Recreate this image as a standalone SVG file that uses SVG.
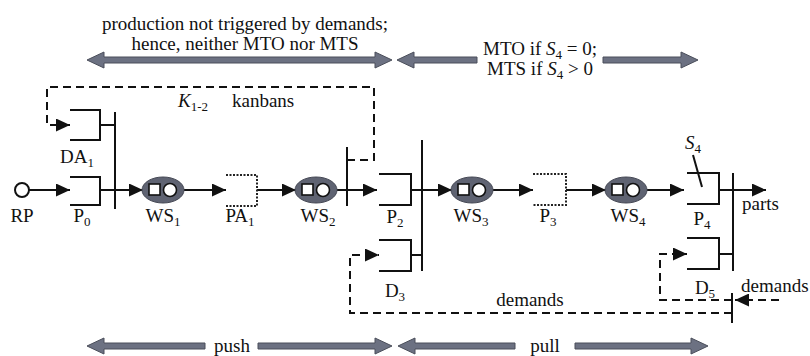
<svg xmlns="http://www.w3.org/2000/svg" width="810" height="356" viewBox="0 0 810 356">
<style>
text{font-family:"Liberation Serif","Times New Roman",serif;font-size:19px;fill:#111}
.m{text-anchor:middle}
.ln{fill:none;stroke:#111;stroke-width:2}
.ds{fill:none;stroke:#111;stroke-width:2;stroke-dasharray:8 5}
.dt{fill:none;stroke:#222;stroke-width:2;stroke-dasharray:2 1.5}
.band{fill:#6c7182;stroke:#4a4e5a;stroke-width:1}
.wsE{fill:#5f6372;stroke:#454854;stroke-width:1}
.wsI{fill:#fff;stroke:#111;stroke-width:1.6}
</style>
<defs>
<marker id="ah" markerUnits="userSpaceOnUse" markerWidth="15" markerHeight="13" refX="14" refY="6.5" orient="auto">
<path d="M0,0 L14,6.5 L0,13 z" fill="#111"/>
</marker>
<g id="ws">
<ellipse cx="0" cy="0" rx="21" ry="13" class="wsE"/>
<rect x="-14" y="-6" width="11" height="11" class="wsI"/>
<circle cx="7" cy="0" r="6.5" class="wsI"/>
</g>
</defs>

<!-- scope bands -->
<g id="bands">
<polygon class="band" points="87,60 104,52 104,57 375,57 375,52 392,60 375,68 375,63 104,63 104,68"/>
<polygon class="band" points="397,60 414,52 414,57 477,57 477,63 414,63 414,68"/>
<polygon class="band" points="603,57 681,57 681,52 698,60 681,68 681,63 603,63"/>
<polygon class="band" points="87,346 104,338 104,343 205,343 205,349 104,349 104,354"/>
<polygon class="band" points="258,343 375,343 375,338 392,346 375,354 375,349 258,349"/>
<polygon class="band" points="398,346 415,338 415,343 515,343 515,349 415,349 415,354"/>
<polygon class="band" points="575,343 691,343 691,338 708,346 691,354 691,349 575,349"/>
</g>
<g id="band-labels">
<text class="m" x="245" y="30">production not triggered by demands;</text>
<text class="m" x="245" y="50">hence, neither MTO nor MTS</text>
<text class="m" x="540" y="55">MTO if <tspan font-style="italic">S</tspan><tspan font-size="13" dy="4">4</tspan><tspan dy="-4"> = 0;</tspan></text>
<text class="m" x="540" y="75">MTS if <tspan font-style="italic">S</tspan><tspan font-size="13" dy="4">4</tspan><tspan dy="-4"> &gt; 0</tspan></text>
<text class="m" x="232" y="352">push</text>
<text class="m" x="545" y="352">pull</text>
</g>

<!-- connectors -->
<g id="connectors">
<path class="ln" d="M29,190 H70" marker-end="url(#ah)"/>
<path class="ln" d="M100,190 H143" marker-end="url(#ah)"/>
<path class="ln" d="M100,125 H115"/>
<path class="ln" d="M115,112 V209"/>
<path class="ln" d="M184,190 H226" marker-end="url(#ah)"/>
<path class="ln" d="M257,190 H296" marker-end="url(#ah)"/>
<path class="ln" d="M337,190 H377" marker-end="url(#ah)"/>
<path class="ln" d="M347,147 V206"/>
<path class="ds" d="M347,160 H374 V87 H47 V125 H70" marker-end="url(#ah)"/>
<path class="ln" d="M411,190 H452" marker-end="url(#ah)"/>
<path class="ln" d="M422,140 V271"/>
<path class="ln" d="M411,255 H422"/>
<path class="ln" d="M493,190 H533" marker-end="url(#ah)"/>
<path class="ln" d="M566,190 H606" marker-end="url(#ah)"/>
<path class="ln" d="M647,190 H684" marker-end="url(#ah)"/>
<path class="ln" d="M719,190 H766" marker-end="url(#ah)"/>
<path class="ln" d="M733,173 V271"/>
<path class="ln" d="M719,254 H733"/>
<path class="ds" d="M732,313 H350 V255 H379" marker-end="url(#ah)"/>
<path class="ds" d="M732,300 H660 V254 H687" marker-end="url(#ah)"/>
<path class="ds" d="M779,300 H735" marker-end="url(#ah)"/>
<path class="ln" d="M732,293 V323"/>
<path class="ln" d="M693,155 L702,187"/>
</g>

<g id="kanban-label">
<text x="178" y="107"><tspan font-style="italic">K</tspan><tspan font-size="13" dy="4">1-2</tspan></text>
<text x="232" y="107">kanbans</text>
</g>

<g id="RP">
<circle cx="22" cy="190" r="7" fill="#fff" stroke="#111" stroke-width="2"/>
<text class="m" x="22" y="222">RP</text>
</g>
<g id="DA1">
<path class="ln" d="M70,110 H100 V140 H70"/>
<text class="m" x="77" y="163">DA<tspan font-size="13" dy="4">1</tspan></text>
</g>
<g id="P0">
<path class="ln" d="M70,177 H100 V205 H70"/>
<text class="m" x="82" y="222">P<tspan font-size="13" dy="4">0</tspan></text>
</g>
<g id="WS1">
<use href="#ws" x="163" y="190"/>
<text class="m" x="163" y="222">WS<tspan font-size="13" dy="4">1</tspan></text>
</g>
<g id="PA1">
<path class="dt" d="M226,175 H257 V206 H226"/>
<text class="m" x="240" y="222">PA<tspan font-size="13" dy="4">1</tspan></text>
</g>
<g id="WS2">
<use href="#ws" x="316" y="190"/>
<text class="m" x="318" y="222">WS<tspan font-size="13" dy="4">2</tspan></text>
</g>
<g id="P2">
<path class="ln" d="M379,174 H411 V205 H379"/>
<text class="m" x="395" y="223">P<tspan font-size="13" dy="4">2</tspan></text>
</g>
<g id="D3">
<path class="ln" d="M379,240 H411 V271 H379"/>
<text class="m" x="395" y="297">D<tspan font-size="13" dy="4">3</tspan></text>
</g>
<g id="WS3">
<use href="#ws" x="472" y="190"/>
<text class="m" x="471" y="222">WS<tspan font-size="13" dy="4">3</tspan></text>
</g>
<g id="P3">
<path class="dt" d="M533,174 H566 V205 H533"/>
<text class="m" x="548" y="222">P<tspan font-size="13" dy="4">3</tspan></text>
</g>
<g id="WS4">
<use href="#ws" x="626" y="190"/>
<text class="m" x="628" y="222">WS<tspan font-size="13" dy="4">4</tspan></text>
</g>
<g id="P4">
<path class="ln" d="M687,173 H719 V204 H687"/>
<text class="m" x="702" y="225">P<tspan font-size="13" dy="4">4</tspan></text>
<text x="685" y="149"><tspan font-style="italic">S</tspan><tspan font-size="13" dy="4">4</tspan></text>
</g>
<g id="D5">
<path class="ln" d="M687,238 H719 V269 H687"/>
<text class="m" x="705" y="294">D<tspan font-size="13" dy="4">5</tspan></text>
</g>
<g id="outputs">
<text x="742" y="210">parts</text>
<text x="741" y="292">demands</text>
<text class="m" x="530" y="306">demands</text>
</g>
</svg>
